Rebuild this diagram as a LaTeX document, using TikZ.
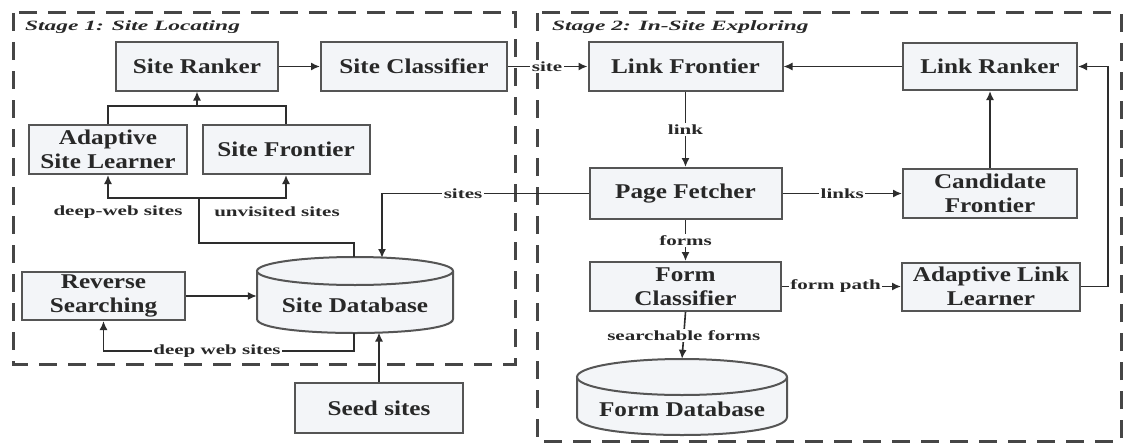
\documentclass[tikz,border=0pt]{standalone}
\usepackage{fontspec}
\setmainfont{Liberation Serif}[FakeStretch=1.2]
\newfontfamily\lblfont{Liberation Serif}[FakeStretch=1.5]
\newfontfamily\ttlfont{Liberation Serif}[FakeStretch=1.65]
\usetikzlibrary{arrows.meta,calc}
\definecolor{boxfill}{RGB}{243,245,248}
\definecolor{edgec}{RGB}{85,85,85}
\definecolor{linec}{RGB}{45,45,45}
\definecolor{txtc}{RGB}{40,40,40}
\definecolor{stagec}{RGB}{70,70,70}
\begin{document}
\begin{tikzpicture}[x=1pt,y=-1pt,
  box/.style={draw=edgec, line width=2pt, fill=boxfill, text=txtc,
    font=\fontsize{21}{24}\selectfont\bfseries, align=center, inner sep=0pt},
  lbl/.style={fill=white, text=txtc, font=\lblfont\bfseries\fontsize{14}{16}\selectfont, inner sep=1.5pt},
  free/.style={text=txtc, font=\lblfont\bfseries\fontsize{14}{16}\selectfont, inner sep=1pt},
  ttl/.style={text=txtc, font=\ttlfont\bfseries\itshape\fontsize{14.2}{16}\selectfont, inner sep=0pt, anchor=west},
  stage/.style={draw=stagec, line width=3pt, dash pattern=on 18pt off 11pt},
  conn/.style={draw=linec, line width=1.6pt},
  arr/.style={conn, -{Latex[length=9pt,width=8pt]}},
  dbarea/.style={inner sep=0pt, draw=none},
  dbtxt/.style={text=txtc, font=\fontsize{21}{24}\selectfont\bfseries, inner sep=0pt},
  cylline/.style={draw=edgec, line width=2pt}
]
\useasboundingbox (0,0) rectangle (1123,444);
\fill[white] (0,0) rectangle (1123,444);

% stage frames
\draw[stage] (13,13) rectangle (515,364);
\draw[stage] (537,13) rectangle (1121,441);
\node[ttl] (t1) at (25,27) {Stage 1: Site Locating};
\node[ttl] (t2) at (552,27) {Stage 2: In-Site Exploring};

% boxes
\node[box, minimum width=162pt, minimum height=48pt] (sr) at (197,66.5) {Site Ranker};
\node[box, minimum width=186pt, minimum height=48pt] (sc) at (414,66.5) {Site Classifier};
\node[box, minimum width=158pt, minimum height=49pt] (asl) at (108,149.5) {Adaptive\\Site Learner};
\node[box, minimum width=167pt, minimum height=49pt] (sf) at (286,149.5) {Site Frontier};
\node[box, minimum width=163pt, minimum height=48pt] (rs) at (103.5,296) {Reverse\\Searching};
\node[box, minimum width=168pt, minimum height=50pt] (seed) at (379,408) {Seed sites};
\node[box, minimum width=194pt, minimum height=48pt] (lf) at (685.5,66.5) {Link Frontier};
\node[box, minimum width=174pt, minimum height=47pt] (lr) at (990,66.5) {Link Ranker};
\node[box, minimum width=192pt, minimum height=51pt] (pf) at (685.5,193.5) {Page Fetcher};
\node[box, minimum width=174pt, minimum height=49pt] (cf) at (990,193.5) {Candidate\\Frontier};
\node[box, minimum width=191pt, minimum height=49pt] (fc) at (685.5,286.5) {Form\\Classifier};
\node[box, minimum width=178pt, minimum height=48pt] (all) at (991,286.5) {Adaptive Link\\Learner};

% Site Database cylinder
\node[dbarea, minimum width=196pt, minimum height=76pt] (sdb) at (355,295) {};
\fill[boxfill] (257,271) -- (257,319) .. controls (257,337.67) and (453,337.67) .. (453,319) -- (453,271) -- cycle;
\draw[cylline] (257,271) -- (257,319) .. controls (257,337.67) and (453,337.67) .. (453,319) -- (453,271);
\draw[cylline, fill=boxfill] (355,271) ellipse [x radius=98, y radius=14];
\node[dbtxt] (sdbl) at (355,305) {Site Database};

% Form Database cylinder
\node[dbarea, minimum width=210pt, minimum height=76pt] (fdb) at (682,397) {};
\fill[boxfill] (577,377) -- (577,417) .. controls (577,441) and (787,441) .. (787,417) -- (787,377) -- cycle;
\draw[cylline] (577,377) -- (577,417) .. controls (577,441) and (787,441) .. (787,417) -- (787,377);
\draw[cylline, fill=boxfill] (682,377) ellipse [x radius=105, y radius=18];
\node[dbtxt] (fdbl) at (682,409) {Form Database};

% stage 1 connectors
\draw[arr] (sr.east) -- (sc.west);
\coordinate (j1) at (198,106);
\draw[conn] (asl.north) |- (j1) -| (sf.north);
\draw[arr] (sr.south |- j1) -- (sr.south);
\coordinate (j2) at (199,198);
\draw[arr] (j2) -| (asl.south);
\draw[arr] (j2) -| (sf.south);
\coordinate (j3) at (354,243);
\draw[conn] (j2) |- (j3) -- (j3 |- sdb.north);
\node[free] (l1) at (118,212) {deep-web sites};
\node[free] (l2) at (277,212) {unvisited sites};
\draw[arr] (rs.east) -- (rs.east -| sdb.west);
\coordinate (j4) at (354,351);
\draw[arr] (sdb.south -| j4) -- (j4) -| (rs.south);
\node[lbl] (l3) at (217,351) {deep web sites};
\coordinate (s2) at (379,332.5);
\draw[arr] (seed.north) -- (s2);

% cross-stage connectors
\coordinate (s1) at (382,258);
\draw[arr] (pf.west) -| (s1);
\node[lbl] (l4) at (463,193.5) {sites};
\draw[arr] (sc.east) -- (lf.west);
\node[lbl] (l5) at (547,66.5) {site};

% stage 2 connectors
\draw[arr] (lf.south) -- node[lbl] (l6) {link} (pf.north);
\draw[arr] (pf.east) -- node[lbl] (l7) {links} (cf.west);
\draw[arr] (cf.north) -- (lr.south);
\draw[arr] (lr.west) -- (lf.east);
\draw[arr] (pf.south) -- node[lbl] (l8) {forms} (fc.north);
\draw[arr] (fc.east) -- node[lbl, pos=0.45] (l9) {form path} (all.west);
\coordinate (j5) at (1108,286.5);
\draw[arr] (all.east) -- (j5) |- (lr.east);
\draw[arr] (fc.south) -- node[lbl] (l10) {searchable forms} (fdb.north);
\end{tikzpicture}
\end{document}
